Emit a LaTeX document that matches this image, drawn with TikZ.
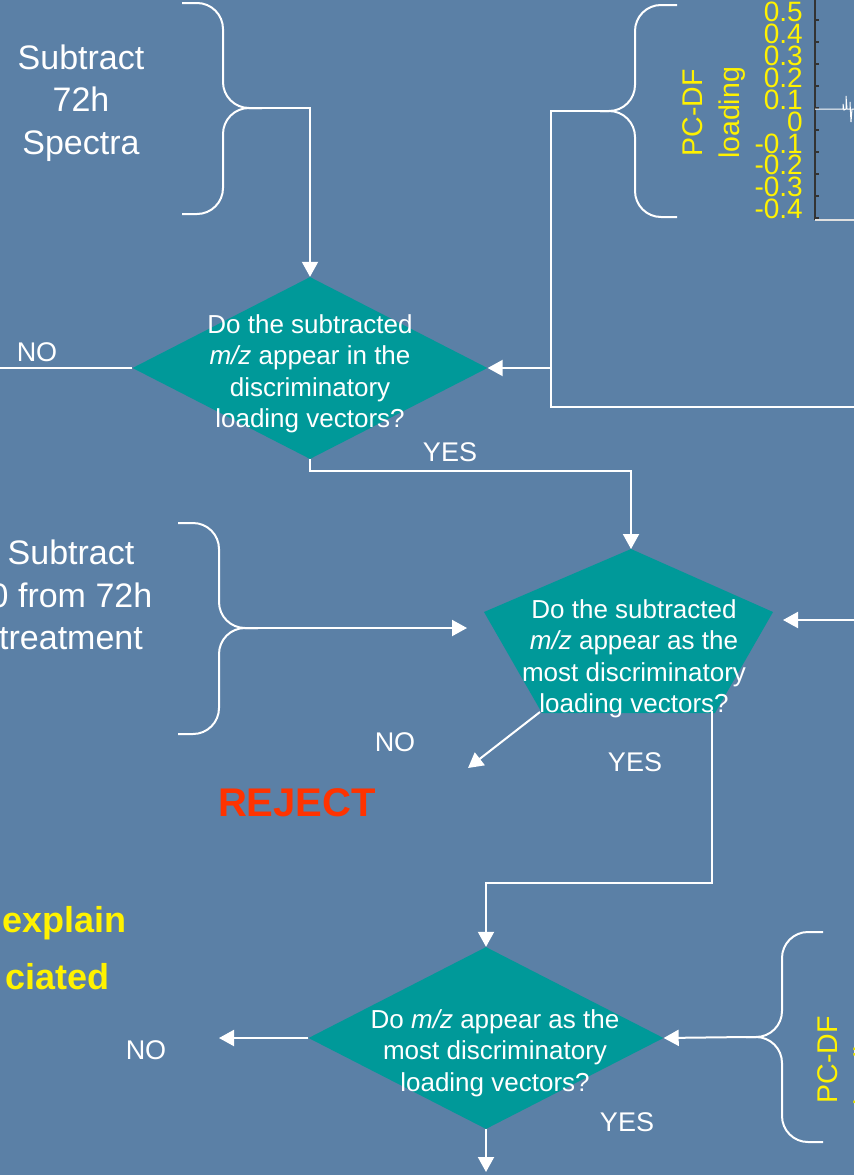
\documentclass[tikz,border=0pt]{standalone}
\usepackage{fontspec}
\setmainfont{Liberation Sans}
\usetikzlibrary{shapes.geometric,arrows.meta}
\definecolor{slideblue}{RGB}{91,128,166}
\definecolor{qteal}{RGB}{0,153,153}
\definecolor{rejred}{RGB}{255,51,0}

\begin{document}
\begin{tikzpicture}[
    x=1pt, y=-1pt,
    wire/.style={white, line width=2pt},
    arrow/.style={wire, -{Triangle[length=15pt,width=16pt]}},
    bracket/.style={wire, rounded corners=26pt},
    question/.style={diamond, fill=qteal, inner sep=0pt, minimum width=355pt, minimum height=182pt},
    qtext/.style={text=white, align=center, font=\fontsize{26}{31.5}\selectfont},
    bigtext/.style={text=white, align=center, font=\fontsize{34}{42.5}\selectfont},
    answer/.style={text=white, font=\fontsize{27}{32}\selectfont},
    pcdf/.style={text=yellow, rotate=90, font=\fontsize{28.5}{34}\selectfont},
    axlbl/.style={text=yellow, anchor=east, inner sep=0pt, font=\fontsize{28}{30}\selectfont}
]
\clip (0,0) rectangle (854,1175);
\fill[slideblue] (0,0) rectangle (854,1175);

% top left: spectra and brace
\node[bigtext] (sub72) at (81,103) {Subtract\\72h\\Spectra};
\coordinate (b1tip) at (262,108);
\draw[bracket] (182,3) -- (223,3) -- (223,108) -- (b1tip);
\draw[bracket] (182,214) -- (223,214) -- (223,108) -- (b1tip);

% top right: loading plot and brace
\node[pcdf] (pcdf1) at (693,113) {PC-DF};
\node[pcdf] (load1) at (732,113) {loading};
\foreach \v [count=\i from 0] in {0.5,0.4,0.3,0.2,0.1,0,-0.1,-0.2,-0.3,-0.4}
    \node[axlbl] (tick\i) at (803,12+21.9*\i) {\v};
\draw[black!80, line width=1.5pt] (815,0) -- (815,220);
\foreach \i in {0,...,9}
    \draw[black!80, line width=1.2pt] (815,20+22*\i) -- (819,20+22*\i);
\draw[white!88!black, line width=1.5pt] (815,220) -- (854,220);
\draw[white, line width=1pt] (815,109) -- (843,109) -- (843,104) -- (844,110) -- (846,109)
    -- (846,96) -- (847,109) -- (850,109) -- (850,102) -- (851,122) -- (852,109) -- (854,109);
\coordinate (b2tip) at (600,111);
\draw[bracket] (677,5) -- (635,5) -- (635,111) -- (b2tip);
\draw[bracket] (677,217) -- (635,217) -- (635,111) -- (b2tip);

% first question
\node[question] (q1) at (310,368) {};
\node[qtext] (q1t) at (310,374) {Do the subtracted\\\textit{m/z} appear in the\\discriminatory\\loading vectors?};
\draw[arrow] (b1tip) -| (q1.north);
\coordinate (noL) at (0,368);
\draw[wire] (q1.west) -- (noL);
\node[answer] (no1) at (37,352) {NO};
\coordinate (j1) at (551,368);
\coordinate (j3) at (551,407);
\coordinate (edgeR1) at (854,407);
\draw[wire] (b2tip) -| (j3) -- (edgeR1);
\draw[arrow] (j1) -- (q1.east);

% second question (pentagon)
\coordinate (p2top) at (631,549);
\coordinate (p2r) at (773,612);
\coordinate (p2br) at (715,713);
\coordinate (p2bl) at (542,713);
\coordinate (p2l) at (484,612);
\fill[qteal] (p2top) -- (p2r) -- (p2br) -- (p2bl) -- (p2l) -- cycle;
\node[qtext] (q2) at (634,659) {Do the subtracted\\\textit{m/z} appear as the\\most discriminatory\\loading vectors?};
\coordinate (y1) at (310,471);
\draw[arrow] (q1.south) -- (y1) -| (p2top);
\node[answer] (yes1) at (450,452) {YES};

\node[bigtext] (sub0) at (71,595) {Subtract\\0 from 72h\\treatment};
\coordinate (b3tip) at (258,628);
\draw[bracket] (178,523) -- (219,523) -- (219,628) -- (b3tip);
\draw[bracket] (178,734) -- (219,734) -- (219,628) -- (b3tip);
\coordinate (p2in) at (467,628);
\draw[arrow] (b3tip) -- (p2in);
\coordinate (edgeR2) at (854,620);
\coordinate (p2rin) at (783,620);
\draw[arrow] (edgeR2) -- (p2rin);
\coordinate (p2no) at (540,712);
\coordinate (rejtip) at (468,768);
\draw[arrow] (p2no) -- (rejtip);
\node[answer] (no2) at (395,742) {NO};
\node[answer] (yes2) at (635,762) {YES};
\node[text=rejred, font=\fontsize{40}{48}\selectfont\bfseries] (reject) at (297,803) {REJECT};

% left yellow remarks
\node[text=yellow, anchor=east, inner sep=0pt, font=\fontsize{36}{42}\selectfont\bfseries] (explain) at (127,923) {explain};
\node[text=yellow, anchor=east, inner sep=0pt, font=\fontsize{36}{42}\selectfont\bfseries] (ciated) at (110,977) {ciated};

% third question
\node[question] (q3) at (486,1038) {};
\node[qtext] (q3t) at (495,1053) {Do \textit{m/z} appear as the\\most discriminatory\\loading vectors?};
\coordinate (p2yes) at (712,711);
\coordinate (y2) at (712,883);
\draw[arrow] (p2yes) -- (y2) -| (q3.north);
\coordinate (no3tip) at (219,1038);
\draw[arrow] (q3.west) -- (no3tip);
\node[answer] (no3) at (146,1050) {NO};
\coordinate (down3) at (486,1172);
\draw[arrow] (q3.south) -- (down3);
\node[answer] (yes3) at (627,1122) {YES};
\coordinate (b4tip) at (746,1037);
\draw[bracket] (823,932) -- (782,932) -- (782,1037) -- (b4tip);
\draw[bracket] (823,1142) -- (782,1142) -- (782,1037) -- (b4tip);
\draw[arrow] (b4tip) -- (q3.east);
\node[pcdf] (pcdf2) at (828,1060) {PC-DF};
\node[pcdf] (load2) at (867,1060) {loading};
\end{tikzpicture}
\end{document}
